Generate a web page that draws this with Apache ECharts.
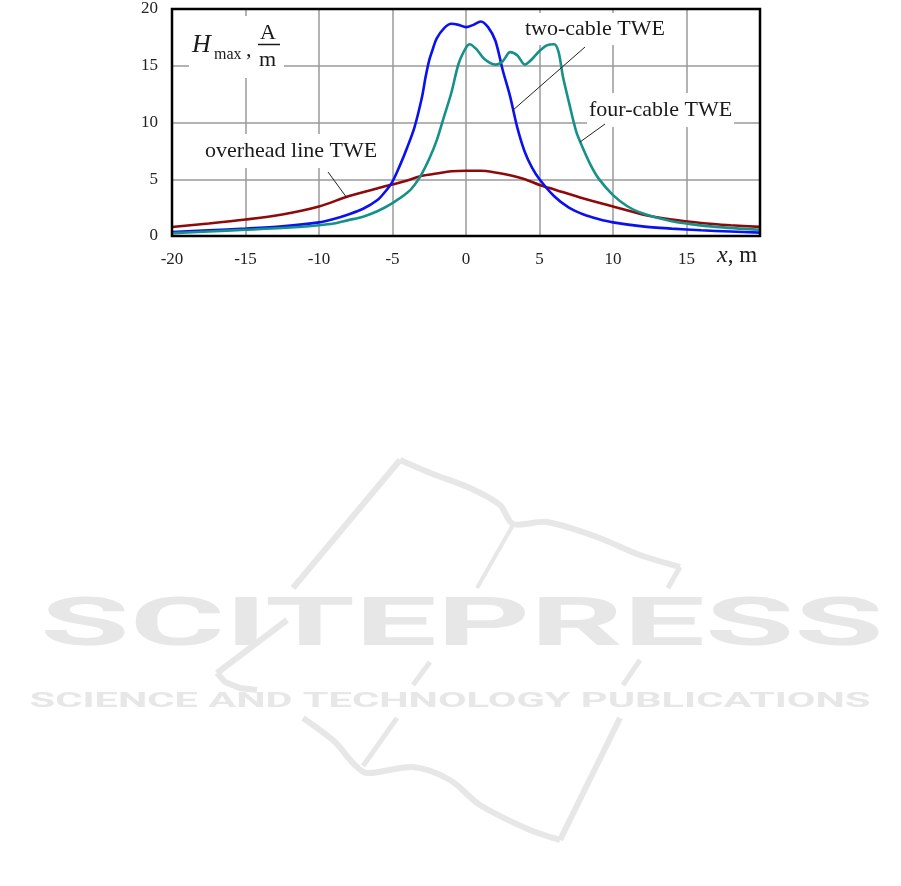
<!DOCTYPE html>
<html><head><meta charset="utf-8">
<script src="https://cdn.jsdelivr.net/npm/echarts@6/dist/echarts.min.js"></script>
<style>html,body{margin:0;padding:0;background:#fff}#c{width:901px;height:886px}</style>
</head><body><div id="c"></div>
<script>
const xTicks = [-20,-15,-10,-5,0,5,10,15,20];
const yTicks = [0,5,10,15,20];
const twoCable = [[-20,0.35],[-17.5,0.5],[-15,0.65],[-12.5,0.85],[-10,1.2],[-9,1.5],[-8,1.9],[-7,2.4],[-6,3.2],[-5.5,3.9],[-5,4.8],[-4.5,6.2],[-4,7.8],[-3.5,9.6],[-3,12.2],[-2.75,14],[-2.5,15.5],[-2.25,16.5],[-2,17.4],[-1.5,18.3],[-1,18.7],[-0.5,18.6],[0,18.4],[0.5,18.6],[1,18.9],[1.5,18.4],[2,17.2],[2.5,14.6],[3,12.3],[3.5,9.5],[4,7.4],[4.5,6.0],[5,5.0],[6,3.5],[7,2.5],[8,1.9],[9,1.5],[10,1.2],[12,0.85],[14,0.65],[16,0.5],[18,0.4],[20,0.3]];
const fourCable = [[-20,0.25],[-17.5,0.4],[-15,0.55],[-12.5,0.7],[-10,0.95],[-9,1.1],[-8,1.4],[-7,1.7],[-6,2.2],[-5,2.9],[-4,3.8],[-3.5,4.5],[-3,5.5],[-2.5,6.8],[-2,8.4],[-1.5,10.5],[-1,12.6],[-0.5,15.2],[0,16.6],[0.25,16.9],[0.75,16.4],[1.25,15.6],[2,15.1],[2.5,15.4],[3,16.2],[3.5,15.9],[4,15.1],[4.5,15.6],[5,16.3],[5.5,16.8],[6,16.9],[6.3,16.2],[6.6,14.0],[7,11.8],[7.5,9.2],[8,7.6],[8.5,6.2],[9,5.1],[10,3.6],[11,2.6],[12,2.0],[13,1.6],[14,1.3],[15,1.1],[17,0.8],[20,0.55]];
const overhead = [[-20,0.8],[-17.5,1.1],[-15,1.45],[-12.5,1.9],[-10,2.6],[-8,3.5],[-6,4.2],[-4,4.9],[-3,5.3],[-2,5.5],[-1,5.7],[0,5.75],[1,5.75],[2,5.6],[3,5.35],[4,5.0],[5,4.5],[6,4.1],[8,3.3],[10,2.6],[12,1.9],[14,1.45],[16,1.15],[18,0.95],[20,0.8]];
const seriesNames = ['two-cable TWE','four-cable TWE','overhead line TWE'];

const chart = echarts.init(document.getElementById('c'));
const serif = 'Liberation Serif';
const sans = 'Roboto, "Noto Sans", "Liberation Sans", sans-serif';
const ink = '#1a1a1a';
const wm = '#e6e7e6';
const wmLine = (pts,w)=>({type:'polyline',z:-11,silent:true,shape:{points:pts},style:{stroke:wm,lineWidth:w||6,fill:null}});
const txt = (x,y,text,size,extra)=>Object.assign({type:'text',z:21,x:x,y:y,style:Object.assign({text:text,fontFamily:serif,fontSize:size,fill:ink,align:'left',verticalAlign:'middle'},extra||{})});
chart.setOption({
  backgroundColor:'#fff',
  animation:false,
  grid:{left:172,right:141,top:9,bottom:650,show:true,borderColor:'#000',borderWidth:2.5,backgroundColor:'transparent',z:5},
  xAxis:{type:'value',min:-20,max:20,interval:5,z:0,
    axisLine:{show:false},axisTick:{show:false},
    splitLine:{show:true,lineStyle:{color:'#9a9a9a',width:1.5}},
    axisLabel:{margin:15,fontFamily:serif,fontSize:17,color:'#222',
      formatter:v=>xTicks.indexOf(v)>=0 && v!==20 ? String(v) : ''}},
  yAxis:{type:'value',min:0,max:20,interval:5,z:0,
    axisLine:{show:false},axisTick:{show:false},
    splitLine:{show:true,lineStyle:{color:'#9a9a9a',width:1.5}},
    axisLabel:{margin:14,fontFamily:serif,fontSize:17,color:'#222',
      formatter:v=>yTicks.indexOf(v)>=0 ? String(v) : ''}},
  series:[
    {name:seriesNames[2],type:'line',data:overhead,showSymbol:false,smooth:0.3,lineStyle:{color:'#8e0a0a',width:2.6},z:3},
    {name:seriesNames[0],type:'line',data:twoCable,showSymbol:false,smooth:0.3,lineStyle:{color:'#0a10f0',width:2.6},z:3},
    {name:seriesNames[1],type:'line',data:fourCable,showSymbol:false,smooth:0.3,lineStyle:{color:'#15918a',width:2.6},z:4}
  ],
  graphic:[
    // watermark logo
    wmLine([[400,460],[293,588]]),
    wmLine([[287,620],[217,673]]),
    {type:'polyline',z:-11,silent:true,shape:{points:[[217,673],[225,682],[240,688],[257,690]]},style:{stroke:wm,lineWidth:6,fill:null}},
    {type:'polyline',z:-11,silent:true,shape:{points:[[400,460],[433,474],[470,488],[500,505],[513,524],[547,522],[597,537],[640,555],[680,567]],smooth:0.3},style:{stroke:wm,lineWidth:6,fill:null}},
    wmLine([[680,567],[668,588]],5),
    wmLine([[513,525],[477,588]],4),
    wmLine([[430,662],[413,685]],5),
    wmLine([[640,660],[623,685]],5),
    {type:'polyline',z:-11,silent:true,shape:{points:[[303,718],[335,742],[353,763],[367,773],[413,767],[450,780],[480,805],[530,830],[560,840]],smooth:0.3},style:{stroke:wm,lineWidth:6,fill:null}},
    wmLine([[397,718],[363,766]],5),
    wmLine([[620,718],[560,840]],6),
    {type:'text',z:-10,silent:true,x:462,y:628,scaleX:2.2,style:{text:'SCITEPRESS',font:'bold 66px '+sans,fill:wm,align:'center',verticalAlign:'middle'}},
    {type:'text',z:-10,silent:true,x:450,y:702,scaleX:1.98,style:{text:'SCIENCE AND TECHNOLOGY PUBLICATIONS',font:'bold 21px '+sans,fill:wm,align:'center',verticalAlign:'middle'}},
    // y label with white bg
    {type:'rect',z:20,shape:{x:189,y:16,width:95,height:62},style:{fill:'#fff'}},
    txt(192,45,'H',26,{fontStyle:'italic'}),
    txt(214,55,'max',16),
    txt(246,50,',',22),
    txt(260,33,'A',22),
    {type:'line',z:21,shape:{x1:258,y1:44.5,x2:280,y2:44.5},style:{stroke:ink,lineWidth:1.5}},
    txt(259,60,'m',22),
    // annotations (below the curves, above the grid lines)
    Object.assign(txt(523,29,seriesNames[0],22,{backgroundColor:'#fff',padding:[6,2,4,2]}),{z:1}),
    {type:'line',z:21,shape:{x1:585,y1:47,x2:512,y2:111},style:{stroke:'#222',lineWidth:1}},
    Object.assign(txt(587,110,seriesNames[1],22,{backgroundColor:'#fff',padding:[6,2]}),{z:1}),
    {type:'line',z:21,shape:{x1:605,y1:124,x2:580,y2:142},style:{stroke:'#222',lineWidth:1}},
    Object.assign(txt(203,151,seriesNames[2],22,{backgroundColor:'#fff',padding:[6,2]}),{z:1}),
    {type:'line',z:21,shape:{x1:328,y1:172,x2:347,y2:198},style:{stroke:'#222',lineWidth:1}},
    // x axis name
    {type:'text',z:21,x:717,y:256,style:{rich:{i:{fontFamily:serif,fontStyle:'italic',fontSize:24,fill:ink},n:{fontFamily:serif,fontSize:23,fill:ink}},text:'{i|x}{n|, m}',verticalAlign:'middle'}}
  ]
});
</script></body></html>
